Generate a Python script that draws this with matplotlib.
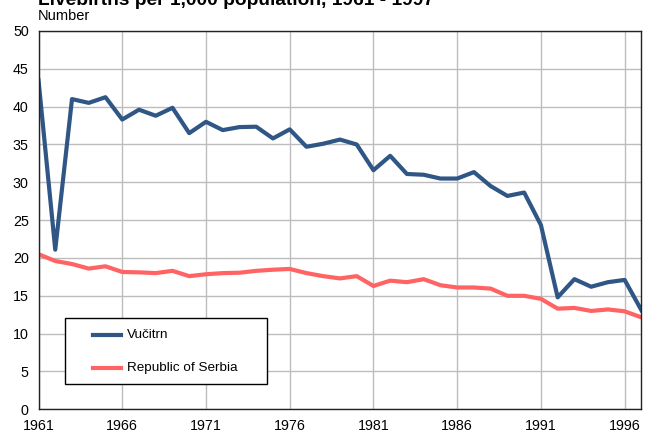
import matplotlib.pyplot as plt
from matplotlib.patches import Rectangle
from matplotlib.lines import Line2D

plt.rcParams['font.family'] = ['Liberation Sans', 'DejaVu Sans']

years = list(range(1961, 1998))

vucitrn = [43.5, 21.1, 41.0, 40.5, 41.25, 38.3, 39.6, 38.8, 39.85, 36.5,
           38.0, 36.9, 37.3, 37.35, 35.8, 37.0, 34.7, 35.1, 35.65, 35.0,
           31.6, 33.5, 31.1, 31.0, 30.5, 30.5, 31.35, 29.5, 28.2, 28.65,
           24.35, 14.8, 17.2, 16.2, 16.8, 17.1, 13.1]

serbia = [20.5, 19.6, 19.2, 18.6, 18.9, 18.15, 18.1, 18.0, 18.3, 17.6,
          17.85, 18.0, 18.05, 18.3, 18.45, 18.55, 18.0, 17.6, 17.3, 17.6,
          16.3, 17.0, 16.8, 17.2, 16.4, 16.1, 16.1, 15.95, 15.0, 15.0,
          14.6, 13.3, 13.4, 13.0, 13.2, 12.95, 12.15]

names = ['Vučitrn', 'Republic of Serbia']
colors = ['#2F5685', '#FF6363']

xticks = [1961, 1966, 1971, 1976, 1981, 1986, 1991, 1996]
yticks = list(range(0, 51, 5))

W, H = 647, 432
fig = plt.figure(figsize=(6.47, 4.32), dpi=100)
x0, x1, y0, y1 = 38.5, 641.4, 409.3, 31
ax = fig.add_axes([x0 / W, 1 - y0 / H, (x1 - x0) / W, (y0 - y1) / H])

for series, name, c in zip([vucitrn, serbia], names, colors):
    ax.plot(years, series, color=c, lw=3, label=name)

ax.set_xlim(1961, 1997)
ax.set_ylim(0, 50)
ax.set_xticks(xticks)
ax.set_yticks(yticks)
ax.tick_params(length=0, labelsize=10.3, pad=7)
ax.grid(True, color='#BDBDBD', lw=1)
ax.set_axisbelow(True)
for s in ax.spines.values():
    s.set_color('#222222')
    s.set_linewidth(1)

# legend box drawn by hand so it matches the wide framed box
def fx(px):
    return (px - x0) / (x1 - x0)

def fy(py):
    return (y0 - py) / (y0 - y1)

ax.add_patch(Rectangle((fx(64.7), fy(384.3)), fx(266.7) - fx(64.7), fy(318.3) - fy(384.3),
                       transform=ax.transAxes, facecolor='white', edgecolor='black',
                       lw=1, zorder=5))
for py, name, c in zip([334.7, 367.7], names, colors):
    ax.add_line(Line2D([fx(93), fx(121)], [fy(py), fy(py)], transform=ax.transAxes,
                       color=c, lw=3, zorder=6))
    ax.text(fx(127), fy(py), name, transform=ax.transAxes, fontsize=9.7,
            va='center', ha='left', zorder=6)

fig.text(38 / W, 1 - 5 / H, 'Livebirths per 1,000 population, 1961 - 1997',
         fontsize=13.8, fontweight='bold', va='baseline')
fig.text(38 / W, 1 - 15.5 / H, 'Number', fontsize=10.5, va='center')

fig.savefig('out.png', dpi=100)
